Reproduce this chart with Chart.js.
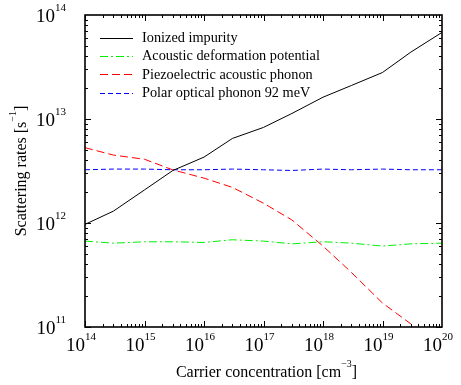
<!DOCTYPE html>
<html>
<head>
<meta charset="utf-8">
<script src="https://cdn.jsdelivr.net/npm/chart.js@4/dist/chart.umd.min.js"></script>
<style>
  html, body { margin: 0; padding: 0; background: #fff; }
  #wrap { width: 461px; height: 385px; }
</style>
</head>
<body>
<div id="wrap"><canvas id="chart" width="461" height="385"></canvas></div>
<script>
// carrier concentration [cm^-3]
var concentration = [1e14, 3e14, 1e15, 3e15, 1e16, 3e16, 1e17, 3e17, 1e18, 3e18, 1e19, 3e19, 1e20];
// scattering rates [s^-1]
var ionizedImpurity = [9.7e11, 1.3e12, 2.08e12, 3.2e12, 4.3e12, 6.5e12, 8.3e12, 1.13e13, 1.62e13, 2.1e13, 2.8e13, 4.4e13, 6.8e13];
var acousticDeformation = [6.7e11, 6.4e11, 6.6e11, 6.6e11, 6.5e11, 6.9e11, 6.7e11, 6.3e11, 6.6e11, 6.4e11, 6.0e11, 6.3e11, 6.4e11];
var piezoelectric = [5.3e12, 4.5e12, 4.1e12, 3.24e12, 2.7e12, 2.2e12, 1.55e12, 1.07e12, 6.0e11, 3.35e11, 1.7e11, 1.07e11, 6.5e10];
var polarOptical = [3.25e12, 3.3e12, 3.3e12, 3.25e12, 3.25e12, 3.3e12, 3.25e12, 3.2e12, 3.3e12, 3.25e12, 3.3e12, 3.25e12, 3.25e12];

var seriesLabels = ['Ionized impurity', 'Acoustic deformation potential', 'Piezoelectric acoustic phonon', 'Polar optical phonon 92 meV'];
var xTickExponents = [14, 15, 16, 17, 18, 19, 20];
var yTickExponents = [11, 12, 13, 14];

var SERIF = '"Liberation Serif", "DejaVu Serif", serif';

function points(values) {
    return concentration.map(function (c, i) {
        return { x: c, y: values[i] };
    });
}

var colors = ['#000000', '#00f000', '#ff0000', '#0000ff'];
var dashes = [[], [8, 3, 2, 3], [8, 4], [5, 3]];

var datasets = [ionizedImpurity, acousticDeformation, piezoelectric, polarOptical].map(function (vals, i) {
    return {
        label: seriesLabels[i],
        data: points(vals),
        borderColor: colors[i],
        borderWidth: 1,
        borderDash: dashes[i],
        pointRadius: 0,
        fill: false,
        tension: 0
    };
});

// draws frame, inside ticks, tick labels with exponents, axis titles and legend
var decorations = {
    id: 'decorations',
    afterDraw: function (chart) {
        var ctx = chart.ctx;
        var a = chart.chartArea;
        var xs = chart.scales.x, ys = chart.scales.y;
        ctx.save();
        ctx.strokeStyle = '#000';

        // ticks on all four sides
        ctx.lineWidth = 1;
        ctx.beginPath();
        var e, m, p;
        for (e = 14; e < 20; e++) {
            for (m = 1; m < 10; m++) {
                p = Math.round(xs.getPixelForValue(m * Math.pow(10, e))) + 0.5;
                var lx = m === 1 ? 6 : 3;
                ctx.moveTo(p, a.bottom); ctx.lineTo(p, a.bottom - lx);
                ctx.moveTo(p, a.top); ctx.lineTo(p, a.top + lx);
            }
        }
        for (e = 11; e < 14; e++) {
            for (m = 1; m < 10; m++) {
                p = Math.round(ys.getPixelForValue(m * Math.pow(10, e))) + 0.5;
                var ly = m === 1 ? 6 : 3;
                ctx.moveTo(a.left, p); ctx.lineTo(a.left + ly, p);
                ctx.moveTo(a.right, p); ctx.lineTo(a.right - ly, p);
            }
        }
        ctx.stroke();

        // frame
        ctx.lineWidth = 1.6;
        ctx.strokeRect(a.left, a.top, a.right - a.left, a.bottom - a.top);

        ctx.fillStyle = '#000';
        ctx.textBaseline = 'alphabetic';

        // x tick labels
        xTickExponents.forEach(function (ex) {
            var px = xs.getPixelForValue(Math.pow(10, ex));
            ctx.font = '19px ' + SERIF;
            ctx.textAlign = 'right';
            ctx.fillText('10', px, 351);
            ctx.font = '11px ' + SERIF;
            ctx.textAlign = 'left';
            ctx.fillText(String(ex), px, 340);
        });

        // y tick labels
        yTickExponents.forEach(function (ex) {
            var py = ys.getPixelForValue(Math.pow(10, ex));
            ctx.font = '11px ' + SERIF;
            var ew = ctx.measureText(String(ex)).width;
            ctx.textAlign = 'right';
            ctx.fillText(String(ex), 66, py - 4);
            ctx.font = '19px ' + SERIF;
            ctx.fillText('10', 66 - ew, py + 7);
        });

        // x title
        var cx = (a.left + a.right) / 2;
        var t1 = 'Carrier concentration [cm';
        var t2 = ']';
        ctx.font = '10px ' + SERIF;
        var sup = '\u22123';
        var ws = ctx.measureText(sup).width;
        ctx.font = '16px ' + SERIF;
        var w1 = ctx.measureText(t1).width, w2 = ctx.measureText(t2).width;
        var x0 = cx - (w1 + ws + w2) / 2 + 3;
        ctx.textAlign = 'left';
        ctx.fillText(t1, x0, 377);
        ctx.fillText(t2, x0 + w1 + ws, 377);
        ctx.font = '10px ' + SERIF;
        ctx.fillText(sup, x0 + w1, 367);

        // y title (rotated)
        ctx.save();
        ctx.translate(26, (a.top + a.bottom) / 2);
        ctx.rotate(-Math.PI / 2);
        var s1 = 'Scattering rates [s';
        var s2 = ']';
        ctx.font = '10px ' + SERIF;
        var ssup = '\u22121';
        var wss = ctx.measureText(ssup).width;
        ctx.font = '16px ' + SERIF;
        var ws1 = ctx.measureText(s1).width, ws2 = ctx.measureText(s2).width;
        var y0 = -(ws1 + wss + ws2) / 2;
        ctx.fillText(s1, y0, 0);
        ctx.fillText(s2, y0 + ws1 + wss, 0);
        ctx.font = '10px ' + SERIF;
        ctx.fillText(ssup, y0 + ws1, -10);
        ctx.restore();

        // legend
        var rows = [37.5, 55.5, 74, 92.5];
        ctx.font = '14.3px ' + SERIF;
        ctx.textAlign = 'left';
        ctx.textBaseline = 'middle';
        datasets.forEach(function (ds, i) {
            var y = Math.round(rows[i]) + 0.5;
            ctx.strokeStyle = ds.borderColor;
            ctx.lineWidth = 1;
            ctx.setLineDash(ds.borderDash);
            ctx.beginPath();
            ctx.moveTo(100, y);
            ctx.lineTo(133, y);
            ctx.stroke();
            ctx.setLineDash([]);
            ctx.fillStyle = '#000';
            ctx.fillText(ds.label, 142, rows[i] + 1);
        });
        ctx.restore();
    }
};

new Chart(document.getElementById('chart').getContext('2d'), {
    type: 'line',
    data: { datasets: datasets },
    options: {
        responsive: false,
        animation: false,
        layout: { padding: { left: 85, right: 19, top: 15, bottom: 58 } },
        plugins: { legend: { display: false }, tooltip: { enabled: false } },
        scales: {
            x: { type: 'logarithmic', min: 1e14, max: 1e20, display: false },
            y: { type: 'logarithmic', min: 1e11, max: 1e14, display: false }
        }
    },
    plugins: [decorations]
});
</script>
</body>
</html>
